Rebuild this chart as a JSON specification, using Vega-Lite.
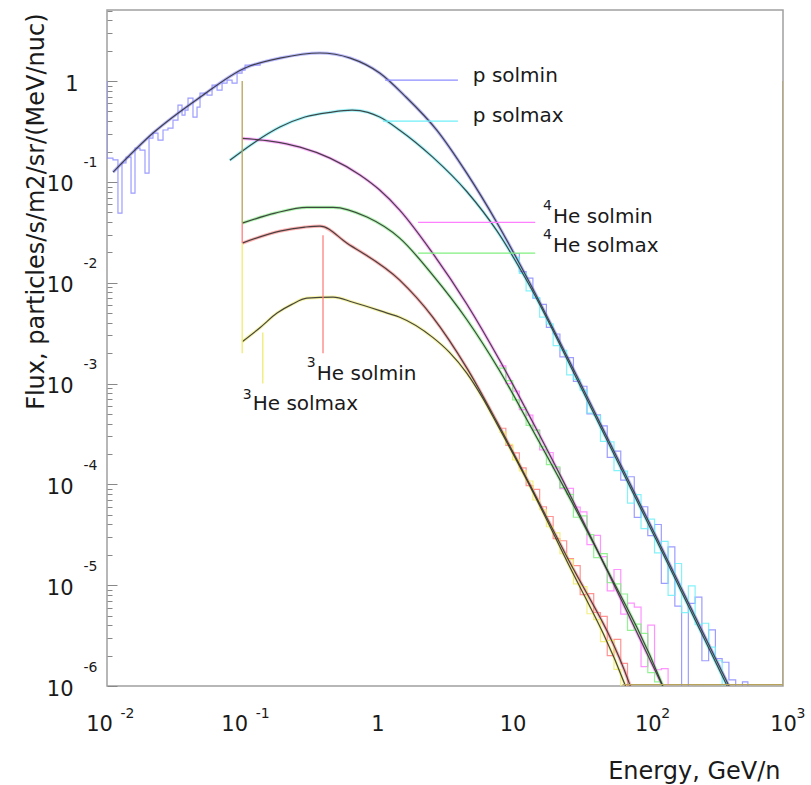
{
  "$schema": "https://vega.github.io/schema/vega-lite/v6.json",
  "width": 676,
  "height": 676,
  "autosize": {"type": "none"},
  "padding": {"left": 107, "top": 10, "right": 28, "bottom": 99},
  "background": "white",
  "config": {
    "view": {"stroke": "#a0a0a0", "strokeWidth": 1.5},
    "axis": {"grid": false, "labelFont": "DejaVu Sans", "titleFont": "DejaVu Sans", "labelColor": "#1a1a1a", "titleColor": "#1a1a1a"},
    "text": {"font": "DejaVu Sans"}
  },
  "datasets": {
    "fit": [
      {"s": "p solmin", "e": 0.0111, "f": 0.125},
      {"s": "p solmin", "e": 0.0219, "f": 0.305},
      {"s": "p solmin", "e": 0.0487, "f": 0.69},
      {"s": "p solmin", "e": 0.105, "f": 1.35},
      {"s": "p solmin", "e": 0.19, "f": 1.69},
      {"s": "p solmin", "e": 0.376, "f": 1.9},
      {"s": "p solmin", "e": 0.63, "f": 1.69},
      {"s": "p solmin", "e": 1.04, "f": 1.2},
      {"s": "p solmin", "e": 1.6, "f": 0.71},
      {"s": "p solmin", "e": 2.75, "f": 0.326},
      {"s": "p solmin", "e": 4.58, "f": 0.122},
      {"s": "p solmin", "e": 7.64, "f": 0.0396},
      {"s": "p solmin", "e": 12.7, "f": 0.0114},
      {"s": "p solmin", "e": 31.6, "f": 1.02e-3},
      {"s": "p solmin", "e": 123, "f": 2.53e-5},
      {"s": "p solmin", "e": 400, "f": 9.9e-7},
      {"s": "p solmax", "e": 0.081, "f": 0.164},
      {"s": "p solmax", "e": 0.124, "f": 0.248},
      {"s": "p solmax", "e": 0.19, "f": 0.35},
      {"s": "p solmax", "e": 0.291, "f": 0.44},
      {"s": "p solmax", "e": 0.446, "f": 0.49},
      {"s": "p solmax", "e": 0.65, "f": 0.515},
      {"s": "p solmax", "e": 0.85, "f": 0.49},
      {"s": "p solmax", "e": 1.04, "f": 0.44},
      {"s": "p solmax", "e": 1.462, "f": 0.326},
      {"s": "p solmax", "e": 2.566, "f": 0.176},
      {"s": "p solmax", "e": 4.58, "f": 0.0803},
      {"s": "p solmax", "e": 7.64, "f": 0.0328},
      {"s": "p solmax", "e": 13.4, "f": 0.00927},
      {"s": "p solmax", "e": 31.6, "f": 9.5e-4},
      {"s": "p solmax", "e": 123, "f": 2.36e-5},
      {"s": "p solmax", "e": 395, "f": 9.4e-7},
      {"s": "4He solmin", "e": 0.1, "f": 0.27},
      {"s": "4He solmin", "e": 0.161, "f": 0.254},
      {"s": "4He solmin", "e": 0.268, "f": 0.221},
      {"s": "4He solmin", "e": 0.446, "f": 0.172},
      {"s": "4He solmin", "e": 0.743, "f": 0.117},
      {"s": "4He solmin", "e": 1.04, "f": 0.083},
      {"s": "4He solmin", "e": 1.462, "f": 0.0525},
      {"s": "4He solmin", "e": 2.566, "f": 0.0196},
      {"s": "4He solmin", "e": 4.58, "f": 0.00615},
      {"s": "4He solmin", "e": 8.04, "f": 0.00169},
      {"s": "4He solmin", "e": 13.4, "f": 4.71e-4},
      {"s": "4He solmin", "e": 24, "f": 1.04e-4},
      {"s": "4He solmin", "e": 41.7, "f": 2.33e-5},
      {"s": "4He solmin", "e": 129, "f": 9.9e-7},
      {"s": "4He solmin", "e": 140, "f": 7.9e-7},
      {"s": "4He solmax", "e": 0.1, "f": 0.039},
      {"s": "4He solmax", "e": 0.175, "f": 0.049},
      {"s": "4He solmax", "e": 0.301, "f": 0.056},
      {"s": "4He solmax", "e": 0.47, "f": 0.056},
      {"s": "4He solmax", "e": 0.837, "f": 0.0448},
      {"s": "4He solmax", "e": 1.462, "f": 0.0277},
      {"s": "4He solmax", "e": 2.566, "f": 0.0119},
      {"s": "4He solmax", "e": 4.58, "f": 0.00432},
      {"s": "4He solmax", "e": 8.04, "f": 0.00133},
      {"s": "4He solmax", "e": 13.4, "f": 3.89e-4},
      {"s": "4He solmax", "e": 24, "f": 9.33e-5},
      {"s": "4He solmax", "e": 41.7, "f": 2.28e-5},
      {"s": "4He solmax", "e": 127, "f": 1.06e-6},
      {"s": "4He solmax", "e": 138, "f": 8.0e-7},
      {"s": "3He solmin", "e": 0.1, "f": 0.0247},
      {"s": "3He solmin", "e": 0.19, "f": 0.0325},
      {"s": "3He solmin", "e": 0.291, "f": 0.0356},
      {"s": "3He solmin", "e": 0.376, "f": 0.0365},
      {"s": "3He solmin", "e": 0.596, "f": 0.0247},
      {"s": "3He solmin", "e": 1.462, "f": 0.0106},
      {"s": "3He solmin", "e": 2.566, "f": 0.00456},
      {"s": "3He solmin", "e": 4.58, "f": 0.00143},
      {"s": "3He solmin", "e": 7.64, "f": 4.19e-4},
      {"s": "3He solmin", "e": 13.4, "f": 1.0e-4},
      {"s": "3He solmin", "e": 24, "f": 2.17e-5},
      {"s": "3He solmin", "e": 73.8, "f": 1.02e-6},
      {"s": "3He solmin", "e": 80, "f": 7.5e-7},
      {"s": "3He solmax", "e": 0.1, "f": 0.0026},
      {"s": "3He solmax", "e": 0.136, "f": 0.0036},
      {"s": "3He solmax", "e": 0.181, "f": 0.005},
      {"s": "3He solmax", "e": 0.233, "f": 0.0061},
      {"s": "3He solmax", "e": 0.301, "f": 0.00703},
      {"s": "3He solmax", "e": 0.47, "f": 0.0072},
      {"s": "3He solmax", "e": 0.66, "f": 0.0064},
      {"s": "3He solmax", "e": 1.18, "f": 0.005},
      {"s": "3He solmax", "e": 1.462, "f": 0.00455},
      {"s": "3He solmax", "e": 2.566, "f": 0.00287},
      {"s": "3He solmax", "e": 3.4, "f": 0.00205},
      {"s": "3He solmax", "e": 4.58, "f": 0.00127},
      {"s": "3He solmax", "e": 6.0, "f": 7.2e-4},
      {"s": "3He solmax", "e": 7.64, "f": 3.99e-4},
      {"s": "3He solmax", "e": 13.4, "f": 9.66e-5},
      {"s": "3He solmax", "e": 24, "f": 1.98e-5},
      {"s": "3He solmax", "e": 67.8, "f": 1.03e-6},
      {"s": "3He solmax", "e": 74, "f": 7.5e-7}
    ],
    "hist": [
      {"s": "p solmin", "p": "lo", "e": 0.0100, "f": 0.172},
      {"s": "p solmin", "p": "lo", "e": 0.01107, "f": 0.165},
      {"s": "p solmin", "p": "lo", "e": 0.01205, "f": 0.049},
      {"s": "p solmin", "p": "lo", "e": 0.01291, "f": 0.154},
      {"s": "p solmin", "p": "lo", "e": 0.01382, "f": 0.176},
      {"s": "p solmin", "p": "lo", "e": 0.01506, "f": 0.0774},
      {"s": "p solmin", "p": "lo", "e": 0.01611, "f": 0.216},
      {"s": "p solmin", "p": "lo", "e": 0.01754, "f": 0.207},
      {"s": "p solmin", "p": "lo", "e": 0.0191, "f": 0.122},
      {"s": "p solmin", "p": "lo", "e": 0.02046, "f": 0.272},
      {"s": "p solmin", "p": "lo", "e": 0.02188, "f": 0.305},
      {"s": "p solmin", "p": "lo", "e": 0.02383, "f": 0.26},
      {"s": "p solmin", "p": "lo", "e": 0.02596, "f": 0.327},
      {"s": "p solmin", "p": "lo", "e": 0.02825, "f": 0.342},
      {"s": "p solmin", "p": "lo", "e": 0.03077, "f": 0.41},
      {"s": "p solmin", "p": "lo", "e": 0.0335, "f": 0.578},
      {"s": "p solmin", "p": "lo", "e": 0.03588, "f": 0.46},
      {"s": "p solmin", "p": "lo", "e": 0.03776, "f": 0.515},
      {"s": "p solmin", "p": "lo", "e": 0.03974, "f": 0.678},
      {"s": "p solmin", "p": "lo", "e": 0.04325, "f": 0.44},
      {"s": "p solmin", "p": "lo", "e": 0.04634, "f": 0.552},
      {"s": "p solmin", "p": "lo", "e": 0.04875, "f": 0.76},
      {"s": "p solmin", "p": "lo", "e": 0.05495, "f": 0.726},
      {"s": "p solmin", "p": "lo", "e": 0.05984, "f": 0.912},
      {"s": "p solmin", "p": "lo", "e": 0.06516, "f": 0.814},
      {"s": "p solmin", "p": "lo", "e": 0.07096, "f": 0.955},
      {"s": "p solmin", "p": "lo", "e": 0.07727, "f": 1.023},
      {"s": "p solmin", "p": "lo", "e": 0.08414, "f": 0.955},
      {"s": "p solmin", "p": "lo", "e": 0.09162, "f": 1.2},
      {"s": "p solmin", "p": "lo", "e": 0.0998, "f": 1.285},
      {"s": "p solmin", "p": "lo", "e": 0.105, "f": 1.44},
      {"s": "p solmin", "p": "lo", "e": 0.1357, "f": 1.5},
      {"s": "p solmin", "p": "hi", "e": 10.0, "f": 0.0195},
      {"s": "p solmin", "p": "hi", "e": 11.22, "f": 0.0129},
      {"s": "p solmin", "p": "hi", "e": 12.59, "f": 0.0111},
      {"s": "p solmin", "p": "hi", "e": 14.13, "f": 0.00705},
      {"s": "p solmin", "p": "hi", "e": 15.85, "f": 0.0061},
      {"s": "p solmin", "p": "hi", "e": 17.78, "f": 0.0036},
      {"s": "p solmin", "p": "hi", "e": 19.95, "f": 0.0031},
      {"s": "p solmin", "p": "hi", "e": 22.39, "f": 0.00184},
      {"s": "p solmin", "p": "hi", "e": 25.12, "f": 0.00181},
      {"s": "p solmin", "p": "hi", "e": 28.18, "f": 1.05e-3},
      {"s": "p solmin", "p": "hi", "e": 31.62, "f": 9.4e-4},
      {"s": "p solmin", "p": "hi", "e": 35.48, "f": 5.0e-4},
      {"s": "p solmin", "p": "hi", "e": 39.81, "f": 4.9e-4},
      {"s": "p solmin", "p": "hi", "e": 44.67, "f": 3.8e-4},
      {"s": "p solmin", "p": "hi", "e": 50.12, "f": 1.85e-4},
      {"s": "p solmin", "p": "hi", "e": 56.23, "f": 2.14e-4},
      {"s": "p solmin", "p": "hi", "e": 63.1, "f": 1.1e-4},
      {"s": "p solmin", "p": "hi", "e": 70.79, "f": 1.19e-4},
      {"s": "p solmin", "p": "hi", "e": 79.43, "f": 4.7e-5},
      {"s": "p solmin", "p": "hi", "e": 89.13, "f": 6.0e-5},
      {"s": "p solmin", "p": "hi", "e": 100, "f": 3.1e-5},
      {"s": "p solmin", "p": "hi", "e": 112.2, "f": 4.0e-5},
      {"s": "p solmin", "p": "hi", "e": 125.9, "f": 1.04e-5},
      {"s": "p solmin", "p": "hi", "e": 141.3, "f": 2.4e-5},
      {"s": "p solmin", "p": "hi", "e": 158.5, "f": 6.2e-6},
      {"s": "p solmin", "p": "hi", "e": 177.8, "f": 1e-7},
      {"s": "p solmin", "p": "hi", "e": 199.5, "f": 6.6e-6},
      {"s": "p solmin", "p": "hi", "e": 223.9, "f": 7.6e-6},
      {"s": "p solmin", "p": "hi", "e": 251.2, "f": 1.78e-6},
      {"s": "p solmin", "p": "hi", "e": 281.8, "f": 3.6e-6},
      {"s": "p solmin", "p": "hi", "e": 316.2, "f": 1.87e-6},
      {"s": "p solmin", "p": "hi", "e": 354.8, "f": 1.72e-6},
      {"s": "p solmin", "p": "hi", "e": 398.1, "f": 1.15e-6},
      {"s": "p solmin", "p": "hi", "e": 446.7, "f": 1e-7},
      {"s": "p solmin", "p": "hi", "e": 501.2, "f": 1.1e-6},
      {"s": "p solmin", "p": "hi", "e": 550, "f": 1e-7},
      {"s": "p solmax", "p": "hi", "e": 10.0, "f": 0.0178},
      {"s": "p solmax", "p": "hi", "e": 11.22, "f": 0.0124},
      {"s": "p solmax", "p": "hi", "e": 12.59, "f": 0.0083},
      {"s": "p solmax", "p": "hi", "e": 14.13, "f": 0.0071},
      {"s": "p solmax", "p": "hi", "e": 15.85, "f": 0.00455},
      {"s": "p solmax", "p": "hi", "e": 17.78, "f": 0.0039},
      {"s": "p solmax", "p": "hi", "e": 19.95, "f": 0.00238},
      {"s": "p solmax", "p": "hi", "e": 22.39, "f": 0.00214},
      {"s": "p solmax", "p": "hi", "e": 25.12, "f": 0.00122},
      {"s": "p solmax", "p": "hi", "e": 28.18, "f": 0.0011},
      {"s": "p solmax", "p": "hi", "e": 31.62, "f": 8.6e-4},
      {"s": "p solmax", "p": "hi", "e": 35.48, "f": 5.1e-4},
      {"s": "p solmax", "p": "hi", "e": 39.81, "f": 4.82e-4},
      {"s": "p solmax", "p": "hi", "e": 44.67, "f": 2.67e-4},
      {"s": "p solmax", "p": "hi", "e": 50.12, "f": 2.64e-4},
      {"s": "p solmax", "p": "hi", "e": 56.23, "f": 1.37e-4},
      {"s": "p solmax", "p": "hi", "e": 63.1, "f": 1.35e-4},
      {"s": "p solmax", "p": "hi", "e": 70.79, "f": 6.5e-5},
      {"s": "p solmax", "p": "hi", "e": 79.43, "f": 7.9e-5},
      {"s": "p solmax", "p": "hi", "e": 89.13, "f": 3.64e-5},
      {"s": "p solmax", "p": "hi", "e": 100, "f": 4.53e-5},
      {"s": "p solmax", "p": "hi", "e": 112.2, "f": 2.09e-5},
      {"s": "p solmax", "p": "hi", "e": 125.9, "f": 2.72e-5},
      {"s": "p solmax", "p": "hi", "e": 141.3, "f": 7.93e-6},
      {"s": "p solmax", "p": "hi", "e": 158.5, "f": 1.64e-5},
      {"s": "p solmax", "p": "hi", "e": 177.8, "f": 5.35e-6},
      {"s": "p solmax", "p": "hi", "e": 199.5, "f": 9.84e-6},
      {"s": "p solmax", "p": "hi", "e": 223.9, "f": 4.05e-6},
      {"s": "p solmax", "p": "hi", "e": 251.2, "f": 4.19e-6},
      {"s": "p solmax", "p": "hi", "e": 281.8, "f": 2.43e-6},
      {"s": "p solmax", "p": "hi", "e": 316.2, "f": 1.78e-6},
      {"s": "p solmax", "p": "hi", "e": 354.8, "f": 1e-7},
      {"s": "4He solmin", "p": "hi", "e": 7.943, "f": 1.5e-3},
      {"s": "4He solmin", "p": "hi", "e": 8.913, "f": 1.0e-3},
      {"s": "4He solmin", "p": "hi", "e": 10.0, "f": 8.4e-4},
      {"s": "4He solmin", "p": "hi", "e": 11.22, "f": 5.5e-4},
      {"s": "4He solmin", "p": "hi", "e": 12.59, "f": 4.85e-4},
      {"s": "4He solmin", "p": "hi", "e": 14.13, "f": 3.45e-4},
      {"s": "4He solmin", "p": "hi", "e": 15.85, "f": 2.2e-4},
      {"s": "4He solmin", "p": "hi", "e": 17.78, "f": 2.07e-4},
      {"s": "4He solmin", "p": "hi", "e": 19.95, "f": 1.45e-4},
      {"s": "4He solmin", "p": "hi", "e": 22.39, "f": 9.06e-5},
      {"s": "4He solmin", "p": "hi", "e": 25.12, "f": 9.12e-5},
      {"s": "4He solmin", "p": "hi", "e": 28.18, "f": 5.94e-5},
      {"s": "4He solmin", "p": "hi", "e": 31.62, "f": 5.33e-5},
      {"s": "4He solmin", "p": "hi", "e": 35.48, "f": 2.52e-5},
      {"s": "4He solmin", "p": "hi", "e": 39.81, "f": 3.12e-5},
      {"s": "4He solmin", "p": "hi", "e": 44.67, "f": 1.92e-5},
      {"s": "4He solmin", "p": "hi", "e": 50.12, "f": 8.79e-6},
      {"s": "4He solmin", "p": "hi", "e": 56.23, "f": 1.43e-5},
      {"s": "4He solmin", "p": "hi", "e": 63.1, "f": 5.16e-6},
      {"s": "4He solmin", "p": "hi", "e": 70.79, "f": 6.65e-6},
      {"s": "4He solmin", "p": "hi", "e": 79.43, "f": 6.07e-6},
      {"s": "4He solmin", "p": "hi", "e": 89.13, "f": 1.56e-6},
      {"s": "4He solmin", "p": "hi", "e": 100, "f": 4.01e-6},
      {"s": "4He solmin", "p": "hi", "e": 112.2, "f": 1.45e-6},
      {"s": "4He solmin", "p": "hi", "e": 125.9, "f": 1.49e-6},
      {"s": "4He solmin", "p": "hi", "e": 141.3, "f": 1e-7},
      {"s": "4He solmax", "p": "hi", "e": 7.943, "f": 1.42e-3},
      {"s": "4He solmax", "p": "hi", "e": 8.913, "f": 1.07e-3},
      {"s": "4He solmax", "p": "hi", "e": 10.0, "f": 6.9e-4},
      {"s": "4He solmax", "p": "hi", "e": 11.22, "f": 5.75e-4},
      {"s": "4He solmax", "p": "hi", "e": 12.59, "f": 3.85e-4},
      {"s": "4He solmax", "p": "hi", "e": 14.13, "f": 3.45e-4},
      {"s": "4He solmax", "p": "hi", "e": 15.85, "f": 2.36e-4},
      {"s": "4He solmax", "p": "hi", "e": 17.78, "f": 1.57e-4},
      {"s": "4He solmax", "p": "hi", "e": 19.95, "f": 1.49e-4},
      {"s": "4He solmax", "p": "hi", "e": 22.39, "f": 9.27e-5},
      {"s": "4He solmax", "p": "hi", "e": 25.12, "f": 7.94e-5},
      {"s": "4He solmax", "p": "hi", "e": 28.18, "f": 4.72e-5},
      {"s": "4He solmax", "p": "hi", "e": 31.62, "f": 4.86e-5},
      {"s": "4He solmax", "p": "hi", "e": 35.48, "f": 3.17e-5},
      {"s": "4He solmax", "p": "hi", "e": 39.81, "f": 1.88e-5},
      {"s": "4He solmax", "p": "hi", "e": 44.67, "f": 2.06e-5},
      {"s": "4He solmax", "p": "hi", "e": 50.12, "f": 1.06e-5},
      {"s": "4He solmax", "p": "hi", "e": 56.23, "f": 1.03e-5},
      {"s": "4He solmax", "p": "hi", "e": 63.1, "f": 8.18e-6},
      {"s": "4He solmax", "p": "hi", "e": 70.79, "f": 3.57e-6},
      {"s": "4He solmax", "p": "hi", "e": 79.43, "f": 4.1e-6},
      {"s": "4He solmax", "p": "hi", "e": 89.13, "f": 3.33e-6},
      {"s": "4He solmax", "p": "hi", "e": 100, "f": 1.36e-6},
      {"s": "4He solmax", "p": "hi", "e": 112.2, "f": 1.1e-6},
      {"s": "4He solmax", "p": "hi", "e": 125.9, "f": 1e-7},
      {"s": "3He solmin", "p": "hi", "e": 7.943, "f": 3.6e-4},
      {"s": "3He solmin", "p": "hi", "e": 8.913, "f": 2.44e-4},
      {"s": "3He solmin", "p": "hi", "e": 10.0, "f": 2.05e-4},
      {"s": "3He solmin", "p": "hi", "e": 11.22, "f": 1.46e-4},
      {"s": "3He solmin", "p": "hi", "e": 12.59, "f": 9.7e-5},
      {"s": "3He solmin", "p": "hi", "e": 14.13, "f": 8.9e-5},
      {"s": "3He solmin", "p": "hi", "e": 15.85, "f": 6.0e-5},
      {"s": "3He solmin", "p": "hi", "e": 17.78, "f": 4.8e-5},
      {"s": "3He solmin", "p": "hi", "e": 19.95, "f": 2.9e-5},
      {"s": "3He solmin", "p": "hi", "e": 22.39, "f": 2.76e-5},
      {"s": "3He solmin", "p": "hi", "e": 25.12, "f": 1.83e-5},
      {"s": "3He solmin", "p": "hi", "e": 28.18, "f": 1.56e-5},
      {"s": "3He solmin", "p": "hi", "e": 31.62, "f": 8.05e-6},
      {"s": "3He solmin", "p": "hi", "e": 35.48, "f": 8.26e-6},
      {"s": "3He solmin", "p": "hi", "e": 39.81, "f": 5.36e-6},
      {"s": "3He solmin", "p": "hi", "e": 44.67, "f": 4.9e-6},
      {"s": "3He solmin", "p": "hi", "e": 50.12, "f": 2.0e-6},
      {"s": "3He solmin", "p": "hi", "e": 56.23, "f": 2.9e-6},
      {"s": "3He solmin", "p": "hi", "e": 63.1, "f": 1.68e-6},
      {"s": "3He solmin", "p": "hi", "e": 70.79, "f": 1e-7},
      {"s": "3He solmax", "p": "hi", "e": 7.943, "f": 3.3e-4},
      {"s": "3He solmax", "p": "hi", "e": 8.913, "f": 2.5e-4},
      {"s": "3He solmax", "p": "hi", "e": 10.0, "f": 1.75e-4},
      {"s": "3He solmax", "p": "hi", "e": 11.22, "f": 1.36e-4},
      {"s": "3He solmax", "p": "hi", "e": 12.59, "f": 1.08e-4},
      {"s": "3He solmax", "p": "hi", "e": 14.13, "f": 7.0e-5},
      {"s": "3He solmax", "p": "hi", "e": 15.85, "f": 5.6e-5},
      {"s": "3He solmax", "p": "hi", "e": 17.78, "f": 3.8e-5},
      {"s": "3He solmax", "p": "hi", "e": 19.95, "f": 3.3e-5},
      {"s": "3He solmax", "p": "hi", "e": 22.39, "f": 2.05e-5},
      {"s": "3He solmax", "p": "hi", "e": 25.12, "f": 1.79e-5},
      {"s": "3He solmax", "p": "hi", "e": 28.18, "f": 1.03e-5},
      {"s": "3He solmax", "p": "hi", "e": 31.62, "f": 9.68e-6},
      {"s": "3He solmax", "p": "hi", "e": 35.48, "f": 5.21e-6},
      {"s": "3He solmax", "p": "hi", "e": 39.81, "f": 4.56e-6},
      {"s": "3He solmax", "p": "hi", "e": 44.67, "f": 2.75e-6},
      {"s": "3He solmax", "p": "hi", "e": 50.12, "f": 2.83e-6},
      {"s": "3He solmax", "p": "hi", "e": 56.23, "f": 1.46e-6},
      {"s": "3He solmax", "p": "hi", "e": 63.1, "f": 1e-7}
    ],
    "rules": [
      {"s": "p solmin", "e": 1.14, "e2": 3.94, "f": 1.02, "f2": 1.02},
      {"s": "p solmax", "e": 1.1, "e2": 3.94, "f": 0.4, "f2": 0.4},
      {"s": "4He solmin", "e": 2.0, "e2": 14.7, "f": 0.0397, "f2": 0.0397},
      {"s": "4He solmax", "e": 2.0, "e2": 14.7, "f": 0.0197, "f2": 0.0197},
      {"s": "3He solmin", "e": 0.396, "e2": 0.396, "f": 0.0296, "f2": 0.002},
      {"s": "3He solmax", "e": 0.142, "e2": 0.142, "f": 0.0032, "f2": 0.001},
      {"s": "edge", "e": 0.1, "e2": 0.1, "f": 1.0, "f2": 0.039},
      {"s": "3He solmin", "e": 0.1, "e2": 0.1, "f": 0.039, "f2": 0.0247},
      {"s": "3He solmax", "e": 0.1, "e2": 0.1, "f": 0.0247, "f2": 0.002},
      {"s": "edge", "e": 1000, "e2": 1000, "f": 1.0, "f2": 1e-6},
      {"s": "edge", "e": 65, "e2": 1000, "f": 1.03e-6, "f2": 1.03e-6},
      {"s": "p solmin", "e": 0.01, "e2": 0.01, "f": 1.0, "f2": 0.17}
    ],
    "labels": [
      {"t": "p solmin", "e": 5.08, "f": 0.977},
      {"t": "p solmax", "e": 5.08, "f": 0.394},
      {"t": "He solmin", "e": 19.9, "f": 0.039},
      {"t": "He solmax", "e": 19.9, "f": 0.0202},
      {"t": "He solmin", "e": 0.356, "f": 1.08e-3},
      {"t": "He solmax", "e": 0.1196, "f": 5.42e-4}
    ],
    "sups": [
      {"t": "4", "e": 19.9, "f": 0.0525},
      {"t": "4", "e": 19.9, "f": 0.027},
      {"t": "3", "e": 0.356, "f": 1.45e-3},
      {"t": "3", "e": 0.1196, "f": 6.98e-4}
    ]
  },
  "layer": [
    {
      "data": {"name": "fit"},
      "mark": {"type": "line", "strokeWidth": 3.2, "opacity": 0.6, "clip": true, "interpolate": "monotone"},
      "encoding": {
        "x": {"field": "e", "type": "quantitative", "scale": {"type": "log", "domain": [0.01, 1000], "nice": false},
          "axis": {"orient": "bottom", "values": [0.01, 0.1, 1, 10, 100, 1000], "labelExpr": "datum.value == 1 ? '1' : '10'",
            "labelOffset": {"condition": {"test": "datum.value < 0.5", "value": -8}, "value": 0},
            "labelPadding": 27, "labelFontSize": 21, "labelAlign": "center", "ticks": false, "domain": false,
            "labelOverlap": false, "labelBound": false, "labelFlush": false,
            "title": "Energy, GeV/n", "titleFontSize": 24, "titleFontWeight": "normal", "titleAnchor": "end", "titleAlign": "right",
            "titleX": 673, "titleY": 92, "titleBaseline": "alphabetic"}},
        "y": {"field": "f", "type": "quantitative", "scale": {"type": "log", "domain": [1e-6, 5.07], "nice": false},
          "axis": {"orient": "left", "values": [1e-6, 1e-5, 1e-4, 1e-3, 1e-2, 0.1, 1], "labelExpr": "datum.value == 1 ? '1' : '10'",
            "labelAlign": "right", "labelBaseline": "middle",
            "labelPadding": {"condition": {"test": "datum.value == 1", "value": 29}, "value": 34},
            "labelOffset": 3, "labelFontSize": 21, "ticks": false, "domain": false,
            "labelOverlap": false, "labelBound": false, "labelFlush": false,
            "title": "Flux, particles/s/m2/sr/(MeV/nuc)", "titleFontSize": 24, "titleFontWeight": "normal",
            "titleAngle": -90, "titleAnchor": "end", "titleAlign": "right", "titleBaseline": "alphabetic",
            "titleX": -64, "titleY": 3}},
        "color": {"field": "s", "type": "nominal", "legend": null,
          "scale": {"domain": ["p solmin", "p solmax", "4He solmin", "4He solmax", "3He solmin", "3He solmax", "edge"],
            "range": ["#8c8cff", "#6ef0f8", "#ff80ff", "#80f080", "#ff8080", "#f0ec70", "#b9a25a"]}},
        "detail": {"field": "s"}
      }
    },
    {
      "data": {"name": "hist"},
      "mark": {"type": "line", "strokeWidth": 1.2, "opacity": 0.85, "clip": true, "interpolate": "step-after"},
      "encoding": {
        "x": {"field": "e", "type": "quantitative", "scale": {"type": "log", "domain": [0.01, 1000], "nice": false},
          "axis": {"orient": "bottom", "values": [0.01, 0.1, 100, 1000],
            "labelExpr": "datum.value == 0.01 ? '-2' : datum.value == 0.1 ? '-1' : datum.value == 100 ? '2' : '3'",
            "labelAlign": "left", "labelOffset": 13, "labelPadding": 20, "labelFontSize": 14, "ticks": false, "domain": false,
            "labelOverlap": false, "labelBound": false, "labelFlush": false, "title": null}},
        "y": {"field": "f", "type": "quantitative", "scale": {"type": "log", "domain": [1e-6, 5.07], "nice": false},
          "axis": {"orient": "left", "values": [1e-6, 1e-5, 1e-4, 1e-3, 1e-2, 0.1],
            "labelExpr": "'-' + round(-log(datum.value) / LN10)",
            "labelAlign": "left", "labelBaseline": "middle", "labelPadding": 24, "labelOffset": -19, "labelFontSize": 14,
            "ticks": false, "domain": false, "labelOverlap": false, "labelBound": false, "labelFlush": false, "title": null}},
        "color": {"field": "s", "type": "nominal", "legend": null},
        "detail": [{"field": "s"}, {"field": "p"}]
      }
    },
    {
      "data": {"name": "fit"},
      "mark": {"type": "line", "strokeWidth": 1.2, "color": "#333333", "opacity": 0.9, "clip": true, "interpolate": "monotone"},
      "encoding": {
        "x": {"field": "e", "type": "quantitative", "scale": {"type": "log", "domain": [0.01, 1000], "nice": false}, "axis": null},
        "y": {"field": "f", "type": "quantitative", "scale": {"type": "log", "domain": [1e-6, 5.07], "nice": false},
          "axis": {"orient": "left", "labels": false, "domain": false, "ticks": true, "tickSize": -5, "tickColor": "#888888", "tickWidth": 1, "title": null,
            "values": [2e-6, 3e-6, 4e-6, 5e-6, 6e-6, 7e-6, 8e-6, 9e-6, 2e-5, 3e-5, 4e-5, 5e-5, 6e-5, 7e-5, 8e-5, 9e-5, 2e-4, 3e-4, 4e-4, 5e-4, 6e-4, 7e-4, 8e-4, 9e-4, 2e-3, 3e-3, 4e-3, 5e-3, 6e-3, 7e-3, 8e-3, 9e-3, 0.02, 0.03, 0.04, 0.05, 0.06, 0.07, 0.08, 0.09, 0.2, 0.3, 0.4, 0.5, 0.6, 0.7, 0.8, 0.9, 2, 3, 4, 5]}},
        "detail": {"field": "s"}
      }
    },
    {
      "data": {"name": "rules"},
      "mark": {"type": "rule", "strokeWidth": 1.3, "clip": true},
      "encoding": {
        "x": {"field": "e", "type": "quantitative", "scale": {"type": "log", "domain": [0.01, 1000], "nice": false}, "axis": null},
        "x2": {"field": "e2"},
        "y": {"field": "f", "type": "quantitative", "scale": {"type": "log", "domain": [1e-6, 5.07], "nice": false},
          "axis": {"orient": "left", "labels": false, "domain": false, "ticks": true, "tickSize": -10, "tickColor": "#888888", "tickWidth": 1, "title": null,
            "values": [1e-6, 1e-5, 1e-4, 1e-3, 1e-2, 0.1, 1]}},
        "y2": {"field": "f2"},
        "color": {"field": "s", "type": "nominal", "legend": null}
      }
    },
    {
      "data": {"name": "labels"},
      "mark": {"type": "text", "fontSize": 20, "align": "left", "baseline": "alphabetic", "color": "#1a1a1a", "font": "DejaVu Sans"},
      "encoding": {
        "x": {"field": "e", "type": "quantitative", "scale": {"type": "log", "domain": [0.01, 1000], "nice": false}, "axis": null},
        "y": {"field": "f", "type": "quantitative", "scale": {"type": "log", "domain": [1e-6, 5.07], "nice": false}, "axis": null},
        "text": {"field": "t"}
      }
    },
    {
      "data": {"name": "sups"},
      "mark": {"type": "text", "fontSize": 14, "align": "right", "baseline": "alphabetic", "dx": -1, "color": "#1a1a1a", "font": "DejaVu Sans"},
      "encoding": {
        "x": {"field": "e", "type": "quantitative", "scale": {"type": "log", "domain": [0.01, 1000], "nice": false}, "axis": null},
        "y": {"field": "f", "type": "quantitative", "scale": {"type": "log", "domain": [1e-6, 5.07], "nice": false}, "axis": null},
        "text": {"field": "t"}
      }
    }
  ],
  "resolve": {"axis": {"x": "independent", "y": "independent"}}
}
